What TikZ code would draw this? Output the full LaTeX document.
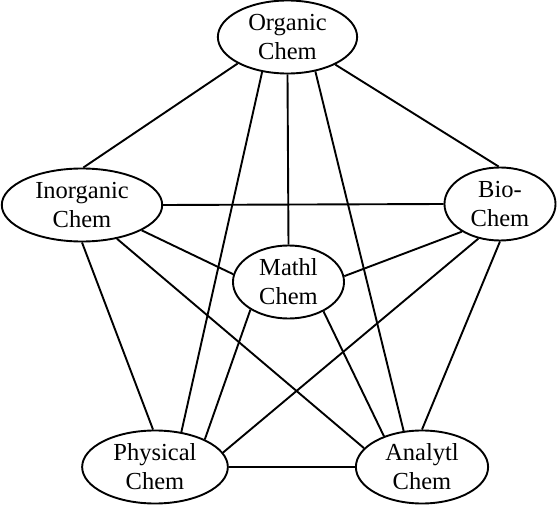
\documentclass[tikz,border=0pt]{standalone}
\usepackage{fontspec}
\setmainfont{Liberation Serif}
\usetikzlibrary{shapes.geometric}

\begin{document}
\begin{tikzpicture}[x=1pt,y=-1pt,
    chem/.style={draw,ellipse,line width=1.9pt,align=center,inner xsep=10pt,inner ysep=0pt,
      minimum height=73pt,font=\fontsize{24.5}{29}\selectfont},
    link/.style={line width=1.9pt}]
        \useasboundingbox (0,0) rectangle (558,511);
        \node[chem] (org) at (287.5,37) {Organic\\Chem};
        \node[chem] (inorg) at (82,205) {Inorganic\\Chem};
        \node[chem] (bio) at (500,204) {Bio-\\Chem};
        \node[chem] (math) at (288.5,282) {Mathl\\Chem};
        \node[chem] (phy) at (155,467) {Physical\\Chem};
        \node[chem] (ana) at (422,467) {Analytl\\Chem};
        % organic to the rest
        \draw[link] (org.208.5) -- (inorg.88);
        \draw[link] (org.330.6) -- (bio.92);
        \draw[link] (org.270) -- (math.90);
        \draw[link] (org.234) -- (phy.53);
        \draw[link] (org.309) -- (ana.117);
        % inorganic
        \draw[link] (inorg.east) -- (bio.west);
        \draw[link] (inorg.337.5) -- (math.172);
        \draw[link] (inorg.316) -- (ana.162);
        \draw[link] (inorg.270) -- (phy.93);
        % bio
        \draw[link] (bio.216) -- (math.6);
        \draw[link] (bio.238) -- (phy.12.6);
        \draw[link] (bio.270) -- (ana.90);
        % mathl, physical
        \draw[link] (math.216) -- (phy.29);
        \draw[link] (math.320.6) -- (ana.141);
        \draw[link] (phy.east) -- (ana.west);
      \end{tikzpicture}
\end{document}
